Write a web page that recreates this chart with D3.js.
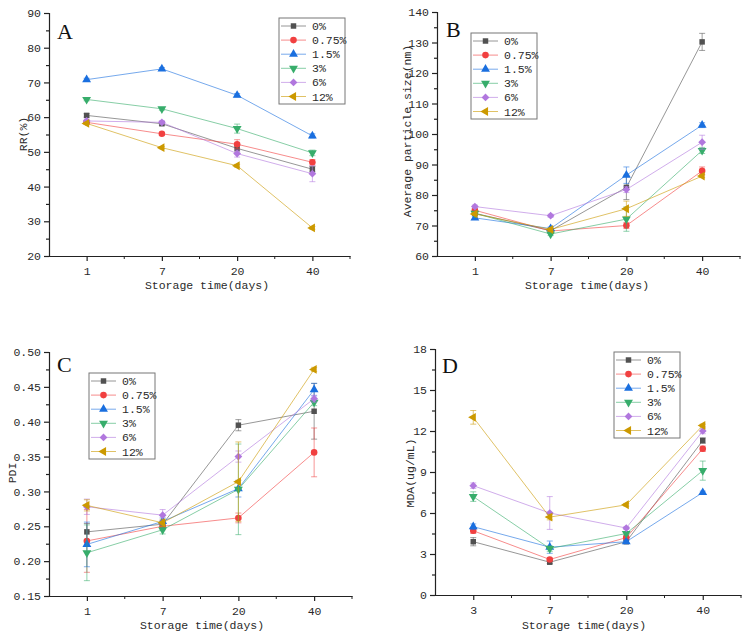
<!DOCTYPE html>
<html>
<head>
<meta charset="utf-8">
<script src="https://cdn.jsdelivr.net/npm/d3@7/dist/d3.min.js"></script>
<style>
  body { margin: 0; background: #fff; }
  svg { display: block; }
  .tick text, .lbl { font-family: "Liberation Mono", monospace; fill: #2a2a2a; }
</style>
</head>
<body>
<div id="vis"></div>
<script>
// ---- data ----
var seriesNames = ['0%', '0.75%', '1.5%', '3%', '6%', '12%'];
var daysABC = ['1', '7', '20', '40'];
var daysD = ['3', '7', '20', '40'];

// A: RR (%)
var rrValues = [
    [60.5, 58.1, 51.0, 45.0],
    [58.5, 55.2, 52.2, 47.0],
    [70.8, 73.9, 66.3, 54.6],
    [65.1, 62.4, 56.7, 49.7],
    [58.9, 58.5, 49.5, 43.7],
    [58.2, 51.2, 46.0, 28.1]
];
var rrErrors = [
    [0.5, 0.4, 0.8, 0.8],
    [0.4, 0.4, 1.3, 0.8],
    [0.4, 0.4, 0.5, 0.6],
    [0.4, 0.4, 1.3, 0.8],
    [0.5, 0.5, 1.0, 2.3],
    [0.3, 0.3, 0.4, 0.4]
];

// B: average particle size (nm)
var sizeValues = [
    [74.0, 68.3, 82.5, 130.2],
    [75.0, 68.2, 70.0, 87.9],
    [72.5, 69.0, 86.5, 102.9],
    [74.0, 67.2, 72.1, 94.6],
    [76.2, 73.2, 81.8, 97.3],
    [73.8, 68.7, 75.5, 86.2]
];
var sizeErrors = [
    [0.5, 0.5, 4.0, 2.8],
    [0.5, 0.5, 1.0, 1.3],
    [0.5, 0.5, 2.7, 0.8],
    [0.5, 0.5, 4.0, 1.0],
    [0.5, 0.5, 1.0, 2.3],
    [0.5, 0.5, 2.5, 0.5]
];

// C: PDI
var pdiValues = [
    [0.242, 0.253, 0.395, 0.415],
    [0.229, 0.250, 0.262, 0.356],
    [0.224, 0.257, 0.304, 0.446],
    [0.212, 0.245, 0.303, 0.428],
    [0.278, 0.266, 0.350, 0.433],
    [0.280, 0.255, 0.314, 0.475]
];
var pdiErrors = [
    [0.012, 0.005, 0.008, 0.040],
    [0.045, 0.005, 0.007, 0.035],
    [0.032, 0.005, 0.012, 0.009],
    [0.040, 0.006, 0.065, 0.005],
    [0.011, 0.008, 0.008, 0.005],
    [0.008, 0.005, 0.057, 0.003]
];

// D: MDA (ug/mL)
var mdaValues = [
    [3.9, 2.4, 3.9, 11.3],
    [4.7, 2.6, 4.2, 10.7],
    [5.0, 3.5, 3.9, 7.5],
    [7.2, 3.4, 4.5, 9.1],
    [8.0, 6.0, 4.9, 12.0],
    [13.0, 5.7, 6.6, 12.4]
];
var mdaErrors = [
    [0.3, 0.1, 0.1, 0.2],
    [0.2, 0.1, 0.1, 0.2],
    [0.2, 0.45, 0.1, 0.1],
    [0.35, 0.2, 0.1, 0.7],
    [0.2, 1.2, 0.1, 0.2],
    [0.5, 0.2, 0.1, 0.1]
];

// ---- styling ----
var colours = ['#515151', '#F14040', '#1A6FDF', '#37AD6B', '#B177DE', '#CC9900'];
var shapes = [
    { type: d3.symbolSquare, rot: 0, size: 30 },
    { type: d3.symbolCircle, rot: 0, size: 34 },
    { type: d3.symbolTriangle, rot: 0, size: 34 },
    { type: d3.symbolTriangle, rot: 180, size: 34 },
    { type: d3.symbolSquare, rot: 45, size: 30 },
    { type: d3.symbolTriangle, rot: -90, size: 34 }
];

var svg = d3.select('#vis')
    .append('svg')
    .attr('width', 747)
    .attr('height', 643);

var panels = [
    {
        letter: 'A', letterPos: [57, 39],
        days: daysABC, values: rrValues, errors: rrErrors,
        x: [49, 350], y: [256, 13], domain: [20, 90], step: 10, fmt: d3.format('d'),
        ylabel: 'RR(%)', ylabelPos: [27, 134], xlabelPos: [207, 289],
        legend: [279, 18]
    },
    {
        letter: 'B', letterPos: [446, 37],
        days: daysABC, values: sizeValues, errors: sizeErrors,
        x: [437, 740], y: [256, 12], domain: [60, 140], step: 10, fmt: d3.format('d'),
        ylabel: 'Average particle size(nm)', ylabelPos: [411, 131], xlabelPos: [587, 289],
        legend: [471, 33]
    },
    {
        letter: 'C', letterPos: [57, 372],
        days: daysABC, values: pdiValues, errors: pdiErrors,
        x: [49, 352], y: [596, 352], domain: [0.15, 0.50], step: 0.05, fmt: d3.format('.2f'),
        ylabel: 'PDI', ylabelPos: [16, 473], xlabelPos: [202, 629],
        legend: [89, 373]
    },
    {
        letter: 'D', letterPos: [442, 373],
        days: daysD, values: mdaValues, errors: mdaErrors,
        x: [435, 741], y: [595, 349], domain: [0, 18], step: 3, fmt: d3.format('d'),
        ylabel: 'MDA(ug/mL)', ylabelPos: [414, 473], xlabelPos: [584, 629],
        legend: [614, 352]
    }
];

function symbolPath(i) {
    return d3.symbol().type(shapes[i].type).size(shapes[i].size)();
}

panels.forEach(function(p) {
    var g = svg.append('g');

    var x_scale = d3.scalePoint()
        .domain(p.days)
        .range(p.x)
        .padding(0.5);

    var y_scale = d3.scaleLinear()
        .domain(p.domain)
        .range(p.y);

    var n = Math.round((p.domain[1] - p.domain[0]) / p.step);
    var majors = d3.range(n + 1).map(function(k) { return p.domain[0] + k * p.step; });
    var minors = d3.range(n).map(function(k) { return p.domain[0] + (k + 0.5) * p.step; });

    // y axis
    g.append('g')
        .attr('transform', 'translate(' + p.x[0] + ',0)')
        .call(d3.axisLeft(y_scale).tickValues(majors).tickFormat(p.fmt).tickSize(5).tickPadding(3));
    g.append('g')
        .attr('transform', 'translate(' + p.x[0] + ',0)')
        .call(d3.axisLeft(y_scale).tickValues(minors).tickFormat('').tickSize(3))
        .select('.domain').remove();

    // x axis
    g.append('g')
        .attr('transform', 'translate(0,' + p.y[0] + ')')
        .call(d3.axisBottom(x_scale).tickSize(5).tickPadding(6).tickSizeOuter(0));
    var stepPx = x_scale.step();
    var bounds = d3.range(1, 5).map(function(k) { return p.x[0] + k * stepPx; });
    g.selectAll('.xminor')
        .data(bounds)
        .enter()
        .append('line')
        .attr('x1', function(d) { return d; })
        .attr('x2', function(d) { return d; })
        .attr('y1', p.y[0])
        .attr('y2', p.y[0] + 3)
        .attr('stroke', '#222');

    g.selectAll('.domain, .tick line').attr('stroke', '#222').attr('stroke-width', 1.2);
    g.selectAll('.tick text').attr('font-size', 11.5);

    // axis titles
    g.append('text')
        .attr('class', 'lbl')
        .attr('x', p.xlabelPos[0])
        .attr('y', p.xlabelPos[1])
        .attr('text-anchor', 'middle')
        .attr('font-size', 11.5)
        .text('Storage time(days)');

    g.append('text')
        .attr('class', 'lbl')
        .attr('transform', 'translate(' + p.ylabelPos[0] + ',' + p.ylabelPos[1] + ') rotate(-90)')
        .attr('text-anchor', 'middle')
        .attr('font-size', 11.5)
        .text(p.ylabel);

    // panel letter
    g.append('text')
        .attr('x', p.letterPos[0])
        .attr('y', p.letterPos[1])
        .attr('font-family', 'Liberation Serif, serif')
        .attr('font-size', 22)
        .attr('fill', '#111')
        .text(p.letter);

    // series
    p.values.forEach(function(vals, i) {
        var col = colours[i];
        var pts = vals.map(function(v, j) {
            return { day: p.days[j], v: v, e: p.errors[i][j] };
        });

        var line = d3.line()
            .x(function(d) { return x_scale(d.day); })
            .y(function(d) { return y_scale(d.v); });

        g.append('path')
            .datum(pts)
            .attr('d', line)
            .attr('fill', 'none')
            .attr('stroke', col)
            .attr('stroke-opacity', 0.6)
            .attr('stroke-width', 1);

        var eb = g.append('g')
            .attr('stroke', col)
            .attr('stroke-opacity', 0.55)
            .attr('stroke-width', 1);
        pts.forEach(function(d) {
            var cx = x_scale(d.day);
            var top = y_scale(d.v + d.e), bot = y_scale(d.v - d.e);
            eb.append('line').attr('x1', cx).attr('x2', cx).attr('y1', top).attr('y2', bot);
            eb.append('line').attr('x1', cx - 3).attr('x2', cx + 3).attr('y1', top).attr('y2', top);
            eb.append('line').attr('x1', cx - 3).attr('x2', cx + 3).attr('y1', bot).attr('y2', bot);
        });

        g.selectAll('.m' + i)
            .data(pts)
            .enter()
            .append('path')
            .attr('d', symbolPath(i))
            .attr('transform', function(d) {
                return 'translate(' + x_scale(d.day) + ',' + y_scale(d.v) + ') rotate(' + shapes[i].rot + ')';
            })
            .attr('fill', col);
    });

    // legend
    var lg = g.append('g')
        .attr('transform', 'translate(' + p.legend[0] + ',' + p.legend[1] + ')');
    lg.append('rect')
        .attr('width', 66)
        .attr('height', 86)
        .attr('fill', '#fff')
        .attr('stroke', '#777')
        .attr('stroke-width', 1);
    seriesNames.forEach(function(name, i) {
        var yy = 8 + i * 14.1;
        lg.append('line')
            .attr('x1', 2).attr('x2', 27)
            .attr('y1', yy).attr('y2', yy)
            .attr('stroke', colours[i])
            .attr('stroke-opacity', 0.6);
        lg.append('path')
            .attr('d', symbolPath(i))
            .attr('transform', 'translate(14.5,' + yy + ') rotate(' + shapes[i].rot + ')')
            .attr('fill', colours[i]);
        lg.append('text')
            .attr('class', 'lbl')
            .attr('x', 33)
            .attr('y', yy + 4)
            .attr('font-size', 11.5)
            .text(name);
    });
});
</script>
</body>
</html>
